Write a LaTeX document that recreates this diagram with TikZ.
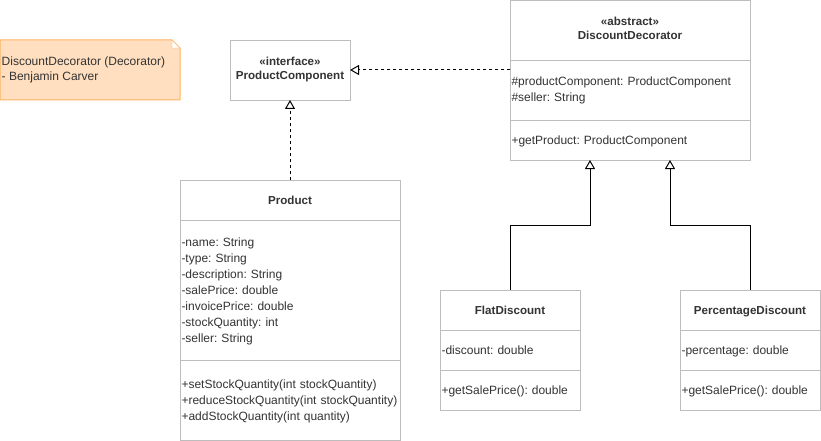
\documentclass[tikz,border=0pt]{standalone}
\usepackage{fontspec}
\setmainfont{Liberation Sans}
\frenchspacing
\usetikzlibrary{positioning,arrows.meta}
\definecolor{boxline}{HTML}{BDBDBD}
\definecolor{txt}{HTML}{333333}
\definecolor{notefill}{HTML}{FFDFBF}
\definecolor{noteline}{HTML}{FFB366}

\begin{document}
\begin{tikzpicture}[
    x=1pt, y=-1pt,
    classhead/.style={draw=boxline,fill=white,text=txt,align=center,inner sep=0pt,outer sep=0pt,
        font=\fontsize{11.6}{14}\selectfont\bfseries,
        execute at begin node={\rule{0pt}{11pt}},execute at end node={\rule[-2.5pt]{0pt}{2.5pt}}},
    classpart/.style={draw=boxline,fill=white,text=txt,align=left,inner xsep=1.5pt,inner ysep=0pt,
        outer sep=0pt,font=\fontsize{12}{16}\selectfont,
        execute at begin node={\rule{0pt}{11pt}},execute at end node={\rule[-3pt]{0pt}{3pt}}},
    inherit/.style={draw=black,line width=1pt,-{Triangle[open,length=9pt,width=10pt,fill=white]}},
    realize/.style={inherit,dash pattern=on 3pt off 3pt},
    notebox/.style={draw=noteline,fill=notefill,line width=1pt}
]
    \useasboundingbox (0,0) rectangle (821,441);

    % author note
    \draw[notebox] (0,40) -- (172,40) -- (180,48) -- (180,100) -- (0,100) -- cycle;
    \draw[draw=noteline,fill=white] (172,40) -- (172,48) -- (180,48) -- cycle;
    \node[text=txt,align=left,anchor=west,inner sep=0pt,font=\fontsize{12}{15}\selectfont,
        execute at begin node={\rule{0pt}{11pt}},execute at end node={\rule[-3pt]{0pt}{3pt}}]
        (note) at (1.5,70.5) {DiscountDecorator (Decorator)\\- Benjamin Carver};

    % interface
    \node[classhead,minimum width=120pt,minimum height=60pt] (iface) at (290,70)
        {«interface»\\ProductComponent};

    % abstract decorator
    \node[classhead,minimum width=240pt,minimum height=60pt] (decorator) at (630,30)
        {«abstract»\\DiscountDecorator};
    \node[classpart,text width=237pt,minimum height=60pt,below=0pt of decorator] (decoratorattr)
        {\#productComponent: ProductComponent\\\#seller: String};
    \node[classpart,text width=237pt,minimum height=40pt,below=0pt of decoratorattr] (decoratorops)
        {+getProduct: ProductComponent};

    % concrete product
    \node[classhead,minimum width=220pt,minimum height=40pt] (product) at (290,200) {Product};
    \node[classpart,text width=217pt,minimum height=140pt,below=0pt of product] (productattr)
        {-name: String\\-type: String\\-description: String\\-salePrice: double\\
         -invoicePrice: double\\-stockQuantity: int\\-seller: String};
    \node[classpart,text width=217pt,minimum height=80pt,below=0pt of productattr] (productops)
        {+setStockQuantity(int stockQuantity)\\+reduceStockQuantity(int stockQuantity)\\
         +addStockQuantity(int quantity)};

    % concrete decorators
    \node[classhead,minimum width=140pt,minimum height=40pt] (flat) at (510,310) {FlatDiscount};
    \node[classpart,text width=137pt,minimum height=40pt,below=0pt of flat] (flatattr)
        {-discount: double};
    \node[classpart,text width=137pt,minimum height=40pt,below=0pt of flatattr] (flatops)
        {+getSalePrice(): double};

    \node[classhead,minimum width=140pt,minimum height=40pt] (percent) at (750,310) {PercentageDiscount};
    \node[classpart,text width=137pt,minimum height=40pt,below=0pt of percent] (percentattr)
        {-percentage: double};
    \node[classpart,text width=137pt,minimum height=40pt,below=0pt of percentattr] (percentops)
        {+getSalePrice(): double};

    % relations
    \draw[realize] (decoratorattr.west |- iface.east) -- (iface.east);
    \draw[realize] (product.north) -- (iface.south);
    \draw[inherit] (flat.north) -- ++(0,-65) -| ([xshift=-40pt]decoratorops.south);
    \draw[inherit] (percent.north) -- ++(0,-65) -| ([xshift=40pt]decoratorops.south);

\end{tikzpicture}
\end{document}
